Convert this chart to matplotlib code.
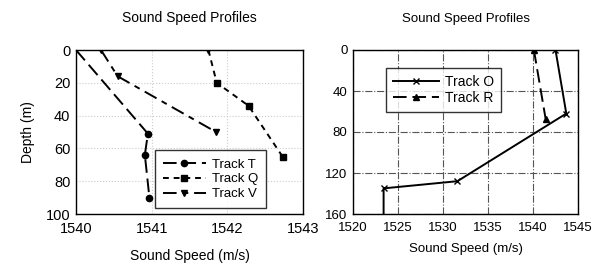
import matplotlib
matplotlib.use("Agg")
import matplotlib.pyplot as plt

plt.rcParams["font.family"] = ["Liberation Sans", "DejaVu Sans"]

# left panel
t_speed = [1540.0, 1540.95, 1540.91, 1540.97]
t_depth = [0, 51, 64, 90]
q_speed = [1541.75, 1541.86, 1542.28, 1542.73]
q_depth = [0, 20, 34, 65]
v_speed = [1540.33, 1540.55, 1541.85]
v_depth = [0, 16, 50]

# right panel
o_speed = [1542.5, 1543.7, 1531.6, 1523.4, 1523.4]
o_depth = [0, 62, 128, 135, 160]
r_speed = [1540.1, 1541.4]
r_depth = [0, 67]

left_xticks = [1540, 1541, 1542, 1543]
left_yticks = [0, 20, 40, 60, 80, 100]
right_xticks = [1520, 1525, 1530, 1535, 1540, 1545]
right_yticks = [0, 40, 80, 120, 160]

fig = plt.figure(figsize=(6.02, 2.66), dpi=100)
ax1 = fig.add_axes([76 / 602, 1 - 214 / 266, 227 / 602, 164 / 266])
ax2 = fig.add_axes([353 / 602, 1 - 214 / 266, 225 / 602, 164 / 266])

lw = 1.4
ax1.plot(t_speed, t_depth, color="black", lw=lw, ls=(0, (7, 3)), marker="o",
         ms=4.5, label="Track T", markevery=[1, 2, 3])
ax1.plot(q_speed, q_depth, color="black", lw=lw, ls=(0, (3, 2.5)), marker="s",
         ms=4.5, label="Track Q", markevery=[1, 2, 3])
ax1.plot(q_speed[:1], q_depth[:1], color="black", ls="none", marker="v", ms=5)
ax1.plot(v_speed, v_depth, color="black", lw=lw, ls=(0, (7, 3, 3, 3)), marker="v",
         ms=5, label="Track V")
ax1.set_xlim(1540, 1543)
ax1.set_ylim(100, 0)
ax1.set_xticks(left_xticks)
ax1.set_yticks(left_yticks)
ax1.grid(True, color="#cccccc", ls=":", lw=0.8)
ax1.tick_params(labelsize=10.5, length=0)
ax1.tick_params(axis="x", pad=6)
ax1.tick_params(axis="y", pad=4)
ax1.set_title("Sound Speed Profiles", fontsize=10, pad=20)
ax1.set_xlabel("Sound Speed (m/s)", fontsize=10, labelpad=9)
ax1.set_ylabel("Depth (m)", fontsize=10, labelpad=8)
ax1.legend(loc="lower left", bbox_to_anchor=(0.35, 0.035), borderaxespad=0,
           handlelength=3.2, fontsize=9.5, frameon=True, fancybox=False,
           edgecolor="black", borderpad=0.6, labelspacing=0.2, handletextpad=0.5)

ax2.plot(o_speed, o_depth, color="black", lw=lw, ls="-", marker="x", ms=5,
         label="Track O", markevery=[0, 1, 2, 3])
ax2.plot(r_speed, r_depth, color="black", lw=lw, ls=(0, (7, 3)), marker="^",
         ms=5, label="Track R")
ax2.set_xlim(1520, 1545)
ax2.set_ylim(160, 0)
ax2.set_xticks(right_xticks)
ax2.set_yticks(right_yticks)
ax2.grid(True, color="#555555", ls="-.", lw=0.8)
ax2.tick_params(labelsize=9.5, length=0)
ax2.tick_params(axis="x", pad=6)
ax2.tick_params(axis="y", pad=4)
ax2.set_title("Sound Speed Profiles", fontsize=9.5, pad=20)
ax2.set_xlabel("Sound Speed (m/s)", fontsize=9.5, labelpad=6)
ax2.legend(loc="upper left", bbox_to_anchor=(0.148, 0.888), borderaxespad=0,
           handlelength=3.3, fontsize=10, frameon=True, fancybox=False,
           edgecolor="black", borderpad=0.5, labelspacing=0.1, handletextpad=0.4)

for ax in (ax1, ax2):
    for s in ax.spines.values():
        s.set_linewidth(1.0)

fig.savefig("out.png", dpi=100)
